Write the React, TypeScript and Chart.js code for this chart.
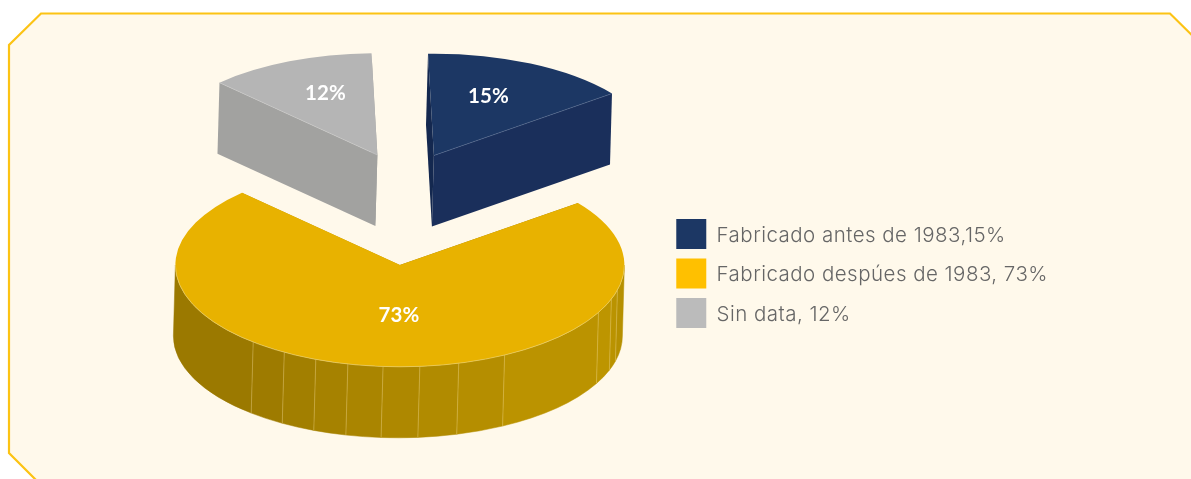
import React, { useEffect, useRef } from "react";
import { Chart, registerables } from "chart.js";

Chart.register(...registerables);

const categories = ["Fabricado antes de 1983,15%", "Fabricado despúes de 1983, 73%", "Sin data, 12%"];
const shares = [15, 73, 12];
const percentLabels = ["15%", "73%", "12%"];
const legendColors = ["#1c3764", "#ffc000", "#bbbbbb"];
const topColors = ["#1c3764", "#e8b200", "#b5b5b5"];
// Rim facets seen on the gold slice, in degrees either side of the front of the pie.
const facetDegrees = [-90, -40.8, -31, -22, -13.4, -4.3, 5.1, 15.2, 27.8, 62.2, 70.4, 75.7, 90];
const facetColors = ["#9b7900", "#9e7b00", "#a27f00", "#a68200", "#aa8500", "#ae8800", "#b18b00", "#b58e00", "#bb9300", "#bd9500", "#ba9300", "#b69000"];

const W = 1191;
const H = 479;
const SQUASH = 0.4535;
const EXTRUDE = { x: -2, y: 71 };
const EXPLODE = [
  { x: 34.5, y: -118 },
  { x: 0.5, y: -8.5 },
  { x: -22, y: -118.5 },
];
const LABEL_SHIFT = [
  { x: 54.5, y: -59.5 },
  { x: -1, y: 50 },
  { x: -52, y: -62 },
];
const STYLE = [
  { first: "#14284f", last: "#1a2f5b", edge: "#52688e" },
  { first: "#9b7900", last: "#bd9500", edge: "#f0d67a" },
  { first: "#a2a2a0", last: "#a2a2a0", edge: "#c9c9c9" },
];
const LEGEND_TEXT_DROP = 1.5;

const pie3d = {
  id: "pie3d",
  beforeLayout(chart: any) {
    chart.ctx.letterSpacing = "0.47px";
  },
  beforeDraw(chart: any) {
    const { ctx } = chart;
    ctx.letterSpacing = "0.47px";
    const legend = chart.legend;
    if (legend && !legend.__dropped) {
      legend.__dropped = true;
      const original = legend.draw;
      legend.draw = function (...args: any[]) {
        const fill = ctx.fillText;
        ctx.fillText = (t: string, x: number, y: number, m?: number) =>
          m === undefined ? fill.call(ctx, t, x, y + LEGEND_TEXT_DROP) : fill.call(ctx, t, x, y + LEGEND_TEXT_DROP, m);
        original.apply(this, args);
        delete ctx.fillText;
      };
    }
    ctx.save();
    ctx.fillStyle = "#ffffff";
    ctx.fillRect(0, 0, W, H);
    ctx.beginPath();
    ctx.moveTo(41, 13.5);
    ctx.lineTo(1170, 13.5);
    ctx.lineTo(1230, 73);
    ctx.lineTo(1230, 540);
    ctx.lineTo(96, 540);
    ctx.lineTo(9, 453);
    ctx.lineTo(9, 45);
    ctx.closePath();
    ctx.fillStyle = "#fff9eb";
    ctx.fill();
    ctx.lineWidth = 2.2;
    ctx.strokeStyle = "#fcc314";
    ctx.stroke();
    ctx.restore();
  },
  beforeDatasetsDraw(chart: any) {
    const { ctx } = chart;
    const arcs = chart.getDatasetMeta(0).data;
    const rim = (el: any, c: any, a: number) => ({
      x: c.x + Math.cos(a) * el.outerRadius,
      y: c.y + Math.sin(a) * el.outerRadius * SQUASH,
    });
    const wall = (p: any, q: any, fill: string) => {
      ctx.beginPath();
      ctx.moveTo(p.x, p.y);
      ctx.lineTo(q.x, q.y);
      ctx.lineTo(q.x + EXTRUDE.x, q.y + EXTRUDE.y);
      ctx.lineTo(p.x + EXTRUDE.x, p.y + EXTRUDE.y);
      ctx.closePath();
      ctx.fillStyle = fill;
      ctx.fill();
    };
    arcs.forEach((el: any, i: number) => {
      const c = { x: el.x + EXPLODE[i].x, y: el.y + EXPLODE[i].y };
      const st = STYLE[i];
      ctx.save();
      // Straight cut walls
      wall(c, rim(el, c, el.startAngle), st.first);
      wall(c, rim(el, c, el.endAngle), st.last);
      // Curved outer wall, for the part of the rim turned towards the viewer
      const lo = Math.max(el.startAngle, 0);
      const hi = Math.min(el.endAngle, Math.PI);
      if (hi > lo) {
        facetColors.forEach((color, k) => {
          const a = Math.PI / 2 - (facetDegrees[k + 1] * Math.PI) / 180;
          const b = Math.PI / 2 - (facetDegrees[k] * Math.PI) / 180;
          const from = Math.max(a, lo);
          const to = Math.min(b, hi);
          if (to <= from) return;
          const rx = el.outerRadius;
          const ry = el.outerRadius * SQUASH;
          ctx.beginPath();
          ctx.ellipse(c.x, c.y, rx, ry, 0, from, to);
          ctx.ellipse(c.x + EXTRUDE.x, c.y + EXTRUDE.y, rx, ry, 0, to, from, true);
          ctx.closePath();
          ctx.fillStyle = color;
          ctx.fill();
          ctx.strokeStyle = color;
          ctx.lineWidth = 0.5;
          ctx.stroke();
          if (k > 0) {
            const p = rim(el, c, b);
            ctx.beginPath();
            ctx.moveTo(p.x, p.y);
            ctx.lineTo(p.x + EXTRUDE.x, p.y + EXTRUDE.y);
            ctx.strokeStyle = "rgba(255,232,170,0.3)";
            ctx.lineWidth = 1;
            ctx.stroke();
          }
        });
      }
      // Flat top: the library's own arc, flattened
      ctx.save();
      ctx.translate(c.x, c.y);
      ctx.scale(1, SQUASH);
      ctx.translate(-el.x, -el.y);
      el.draw(ctx);
      ctx.restore();
      // Light edges
      ctx.strokeStyle = st.edge;
      ctx.lineWidth = 0.6;
      if (hi > lo) {
        ctx.beginPath();
        ctx.ellipse(c.x, c.y, el.outerRadius, el.outerRadius * SQUASH, 0, lo, hi);
        ctx.stroke();
      } else {
        const e = rim(el, c, i === 0 ? el.endAngle : el.startAngle);
        ctx.beginPath();
        ctx.moveTo(c.x, c.y);
        ctx.lineTo(e.x, e.y);
        ctx.stroke();
      }
      // Percent label
      ctx.fillStyle = "#ffffff";
      ctx.letterSpacing = "0px";
      ctx.font = "700 20.5px Lato";
      ctx.textAlign = "center";
      ctx.textBaseline = "middle";
      ctx.fillText(percentLabels[i], c.x + LABEL_SHIFT[i].x, c.y + LABEL_SHIFT[i].y);
      ctx.restore();
    });
    return false;
  },
};

export default function App() {
  const ref = useRef<HTMLCanvasElement>(null);
  useEffect(() => {
    document.body.style.margin = "0";
    const chart = new Chart(ref.current as HTMLCanvasElement, {
      type: "pie",
      data: {
        labels: categories,
        datasets: [
          {
            data: shares,
            backgroundColor: topColors,
            borderWidth: 0,
            radius: 224.5,
            rotation: -1.5,
          } as any,
        ],
      },
      options: {
        responsive: false,
        animation: false,
        events: [],
        layout: { padding: { left: 132, right: 133, top: 68, bottom: 0 } },
        plugins: {
          tooltip: { enabled: false },
          legend: {
            position: "right",
            labels: {
              boxWidth: 30,
              boxHeight: 30,
              padding: 9.5,
              color: "#666666",
              font: { family: "Inter", size: 20.5, weight: "300" },
              generateLabels: () =>
                categories.map((text, i) => ({
                  text,
                  fillStyle: legendColors[i],
                  strokeStyle: legendColors[i],
                  lineWidth: 0,
                  fontColor: "#666666",
                  index: i,
                })),
            },
          },
        },
      } as any,
      plugins: [pie3d],
    });
    return () => chart.destroy();
  }, []);
  return <canvas ref={ref} width={W} height={H} style={{ display: "block" }} />;
}
